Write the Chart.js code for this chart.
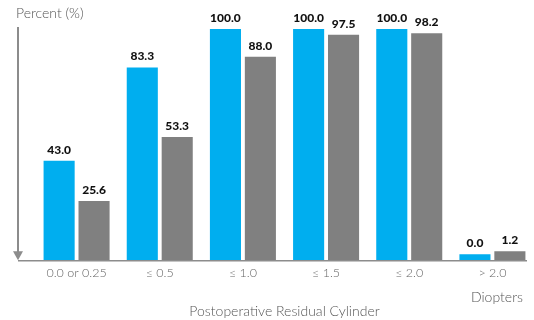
<!DOCTYPE html>
<html>
<head>
<meta charset="utf-8">
<script src="https://cdn.jsdelivr.net/npm/chart.js@4.4.1/dist/chart.umd.min.js"></script>
<style>
    html, body { margin: 0; padding: 0; background: #fff; }
    #wrap { width: 534px; height: 320px; position: relative; }
</style>
</head>
<body>
<div id="wrap"><canvas id="mainChart"></canvas></div>
<script>
const categories = ["0.0 or 0.25", "\u2264 0.5", "\u2264 1.0", "\u2264 1.5", "\u2264 2.0", "> 2.0"];
const blueValues = [43.0, 83.3, 100.0, 100.0, 100.0, 0.0];
const grayValues = [25.6, 53.3, 88.0, 97.5, 98.2, 1.2];

const FONT = "Lato, 'DejaVu Sans', sans-serif";


// ---------------- Axis arrow + value labels ----------------
const decorPlugin = {
    id: 'decor',
    afterDatasetsDraw(chart) {
        const ctx = chart.ctx;
        const area = chart.chartArea;
        const axisX = area.left - 17;
        const baseY = chart.scales.y.getPixelForValue(0);

        ctx.save();

        // down arrow on the left
        ctx.strokeStyle = '#8c8c8c';
        ctx.fillStyle = '#8c8c8c';
        ctx.lineWidth = 2;
        ctx.beginPath();
        ctx.moveTo(axisX, area.top - 2);
        ctx.lineTo(axisX, baseY - 8);
        ctx.stroke();
        ctx.beginPath();
        ctx.moveTo(axisX - 5, baseY - 9);
        ctx.lineTo(axisX + 5, baseY - 9);
        ctx.lineTo(axisX, baseY);
        ctx.closePath();
        ctx.fill();

        // baseline
        ctx.lineWidth = 1.5;
        ctx.beginPath();
        ctx.moveTo(axisX, baseY + 0.5);
        ctx.lineTo(area.right - 7, baseY + 0.5);
        ctx.stroke();

        // value labels
        ctx.fillStyle = '#111';
        ctx.font = "900 12px " + FONT;
        ctx.textAlign = 'center';
        ctx.textBaseline = 'bottom';
        chart.data.datasets.forEach((ds, i) => {
            chart.getDatasetMeta(i).data.forEach((bar, j) => {
                ctx.fillText(ds.data[j].toFixed(1), bar.x, bar.y - 5);
            });
        });

        // corner texts
        ctx.fillStyle = '#555';
        ctx.font = "300 14px " + FONT;
        ctx.textAlign = 'left';
        ctx.textBaseline = 'middle';
        ctx.fillText('Percent (%)', 16, 13);
        ctx.textAlign = 'center';
        ctx.fillText('Diopters', 497, 297);

        ctx.restore();
    }
};


// ---------------- Chart Init ----------------
function initChart() {
    const ctx = document.getElementById('mainChart').getContext('2d');

    new Chart(ctx, {
        type: 'bar',
        data: {
            labels: categories,
            datasets: [
                { data: blueValues, backgroundColor: '#00aeef', minBarLength: 6 },
                { data: grayValues, backgroundColor: '#808080', minBarLength: 9 }
            ]
        },
        options: {
            responsive: true,
            maintainAspectRatio: false,
            animation: false,
            categoryPercentage: 0.84,
            barPercentage: 0.89,
            layout: { padding: { left: 35, right: 0, top: 29, bottom: 0 } },
            plugins: {
                legend: { display: false },
                tooltip: { enabled: false }
            },
            scales: {
                y: { display: false, min: 0, max: 100 },
                x: {
                    grid: { display: false, drawTicks: false },
                    border: { display: false },
                    ticks: {
                        color: '#666',
                        font: { family: FONT, size: 12.5, weight: '300' },
                        padding: 5,
                        maxRotation: 0,
                        autoSkip: false
                    },
                    title: {
                        display: true,
                        text: 'Postoperative Residual Cylinder',
                        color: '#555',
                        font: { family: FONT, size: 14, weight: '300' },
                        padding: { top: 18, bottom: 0 }
                    }
                }
            }
        },
        plugins: [decorPlugin]
    });
}

initChart();
</script>
</body>
</html>
